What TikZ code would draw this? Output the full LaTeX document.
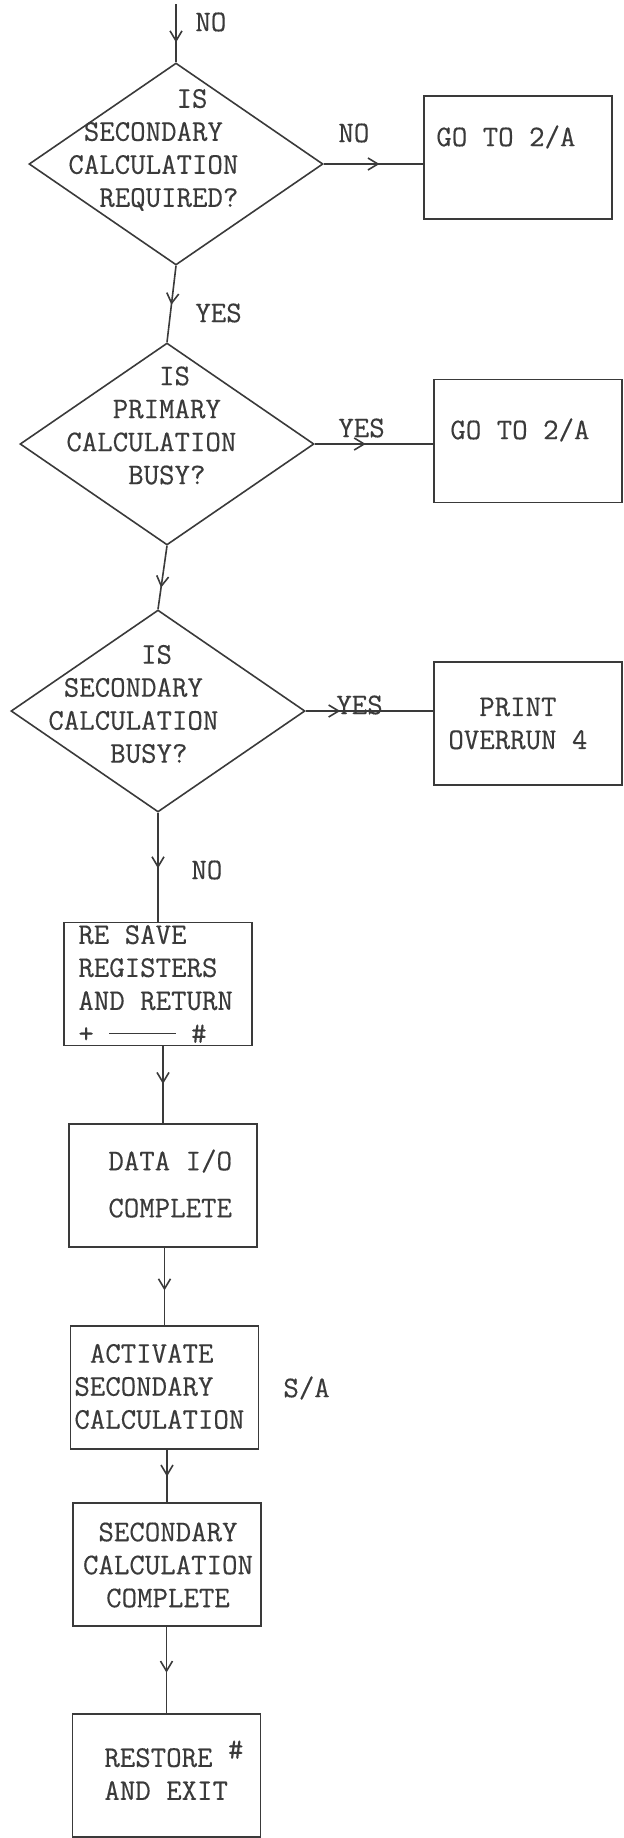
\documentclass[tikz,border=0pt]{standalone}
\usepackage{fontspec}
\usepackage{tikz}
\usepackage{xcolor}
\usetikzlibrary{shapes.geometric,arrows.meta,decorations.markings}
\setmonofont{Latin Modern Mono}[FakeBold=0.35]
\definecolor{ink}{HTML}{3A3A3A}
\newcommand{\gap}[1]{\hspace*{#1\fontcharwd\font`X}}

\begin{document}
\begin{tikzpicture}[x=0.5pt,y=-0.5pt,
  every node/.style={inner sep=0pt,text=ink,font=\ttfamily\fontsize{15}{16.5}\selectfont},
  decision/.style={draw=ink,line width=0.8pt,shape=diamond,minimum width=147pt,minimum height=101pt},
  procbox/.style={draw=ink,line width=0.8pt,minimum width=94pt,minimum height=61.5pt},
  flow/.style={draw=ink,line width=0.8pt,postaction={decorate},
    decoration={markings,mark=at position #1 with {\arrow[ink]{Straight Barb[length=5pt,width=6pt]}}}}]
\useasboundingbox (0,0) rectangle (624,1838);
\coordinate (top) at (176,4);
\node[decision] at (176,164) (d1){};
\node[decision] at (167,444) (d2){};
\node[decision] at (158,711) (d3){};
\node[procbox] at (518,157.5) (b1){};
\node[procbox] at (528,441) (b2){};
\node[procbox] at (528,723.5) (b3){};
\node[procbox] at (158,984) (b4){};
\node[procbox] at (163,1185.5) (b5){};
\node[procbox] at (164.5,1387.5) (b6){};
\node[procbox] at (167,1564.5) (b7){};
\node[procbox] at (166.5,1775.5) (b8){};

\node[anchor=west,align=left] at (68,150) (d1t){\gap{7}IS\\\gap{1}SECONDARY\\CALCULATION\\\gap{2}REQUIRED?};
\node[anchor=west,align=left] at (66,425.5) (d2t){\gap{6}IS\\\gap{3}PRIMARY\\CALCULATION\\\gap{4}BUSY?};
\node[anchor=west,align=left] at (48,704) (d3t){\gap{6}IS\\\gap{1}SECONDARY\\CALCULATION\\\gap{4}BUSY?};
\node[anchor=west] at (436,137) (b1t){GO TO 2/A};
\node[anchor=west] at (450,430) (b2t){GO TO 2/A};
\node[anchor=west,align=left] at (448,723.5) (b3t){\gap{2}PRINT\\OVERRUN 4};
\node[anchor=west,align=left] at (78,984) (b4t){RE SAVE\\REGISTERS\\AND RETURN\\+\gap{1}\rule[0.28em]{4.3\fontcharwd\font`X}{0.6pt}\gap{1}\#};
\node[anchor=west,align=left] at (108,1183.5) (b5t){DATA I/O\\[7pt]COMPLETE};
\node[anchor=west,align=left] at (74,1386.5) (b6t){\gap{1}ACTIVATE\\SECONDARY\\CALCULATION};
\node[align=center] at (168,1565) (b7t){SECONDARY\\CALCULATION\\COMPLETE};
\node[anchor=west,align=left] at (104,1774) (b8t){RESTORE\gap{1}\smash{\raisebox{4pt}{\#}}\\AND EXIT};
\node[anchor=west] at (283,1388) (sa){S/A};

\node[anchor=west] at (195,22) (no1){NO};
\node[anchor=west] at (338,133) (no2){NO};
\node[anchor=west] at (195,313) (yes1){YES};
\node[anchor=west] at (338,428) (yes2){YES};
\node[anchor=west] at (336,705) (yes3){YES};
\node[anchor=west] at (191,870) (no3){NO};

\draw[flow=0.66] (top) -- (d1.north);
\draw[flow=0.51] (d1.south) -- (d2.north);
\draw[flow=0.66] (d2.south) -- (d3.north);
\draw[flow=0.56] (d1.east) -- (d1.east -| b1.west);
\draw[flow=0.43] (d2.east) -- (d2.east -| b2.west);
\draw[flow=0.27] (d3.east) -- (d3.east -| b3.west);
\draw[flow=0.51] (d3.south) -- (b4.north);
\foreach \a/\b/\p in {b4/b5/0.49,b5/b6/0.55,b6/b7/0.51,b7/b8/0.53}{
\draw[flow=\p] (\a.south -| \b.north) -- (\b.north);
}
\end{tikzpicture}
\end{document}
